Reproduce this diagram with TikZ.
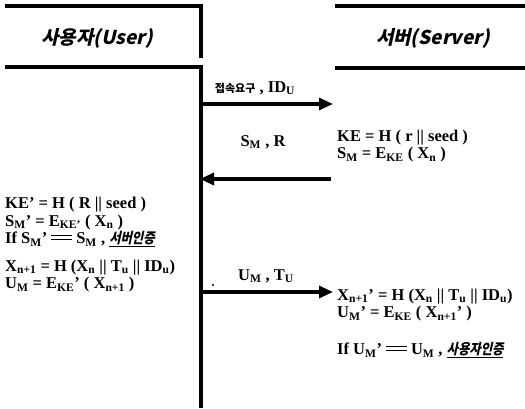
\documentclass[tikz,border=0pt]{standalone}
\usepackage{fontspec}
\setmainfont{Liberation Serif}
\newfontfamily\krfont[FakeSlant=0.22]{Noto Sans CJK KR}
\newfontfamily\krnarrow[FakeSlant=0.22,FakeStretch=0.85]{Noto Sans CJK KR}
\newfontfamily\krup{Noto Sans CJK KR}
\usetikzlibrary{positioning,arrows.meta}
\newcommand\subs[1]{\textsubscript{#1}}
\newcommand\hdr{\krfont\bfseries\fontsize{19}{21}\selectfont}
\newcommand\ko[1]{{\krup\bfseries\fontsize{11}{13}\selectfont #1}}
\newcommand\kou[1]{\underline{\krnarrow\bfseries\fontsize{14.5}{14.5}\selectfont #1}}
\newcommand\eqq{\kern4pt\rule[3.2pt]{21pt}{1.6pt}\llap{\rule[7.2pt]{21pt}{1.6pt}}\kern4pt}

\begin{document}
\begin{tikzpicture}[x=1pt,y=-1pt,font=\bfseries\fontsize{16.5}{17.5}\selectfont,
  rule/.style={line width=3.2pt},
  msg/.style={line width=3.2pt,-{Triangle[length=14pt,width=12pt]}},
  eq/.style={anchor=west,inner sep=0pt,align=left},
  lbl/.style={inner sep=0pt}]
\useasboundingbox (0,0) rectangle (525,408);
% ===== headers =====
\draw[rule] (5,6)--(201,6)--(201,58);
\draw[rule] (5,67)--(201,67)--(201,408);
\draw[rule] (335,6)--(525,6);
\draw[rule] (335,68)--(525,68);
\node (user) at (97,38) {\hdr 사용자(User)};
\node (server) at (433,38) {\hdr 서버(Server)};
% ===== message end points =====
\coordinate (u1) at (201,104); \coordinate (s1) at (333,104);
\coordinate (u2) at (200,179); \coordinate (s2) at (331,179);
\coordinate (u3) at (201,292); \coordinate (s3) at (333,292);
% ===== messages =====
\draw[msg] (u1)--(s1);
\node[lbl] (m1) at (255,88) {\ko{접속요구} , ID\subs{U}};
\draw[msg] (s2)--(u2);
\node[lbl] (m2) at (263,142) {S\subs{M} , R};
\draw[msg] (u3)--(s3);
\node[lbl] (m3) at (266,276) {U\subs{M} , T\subs{U}};
\fill (213,285) circle (1.2pt);
% ===== server computations =====
\node[eq] (kes) at (337,146) {KE = H ( r || seed )\\S\subs{M} = E\subs{KE} ( X\subs{n} )};
\node[eq] (xns) at (337,305) {X\subs{n+1}’ = H (X\subs{n} || T\subs{u} || ID\subs{u})\\U\subs{M}’ = E\subs{KE} ( X\subs{n+1}’ )};
\node[eq] (auths) at (337,350) {If U\subs{M}’\eqq U\subs{M} , \kou{사용자인증}};
% ===== user computations =====
\node[eq] (keu) at (5,222) {KE’ = H ( R || seed )\\S\subs{M}’ = E\subs{KE’} ( X\subs{n} )\\If S\subs{M}’\eqq S\subs{M} , \kou{서버인증}};
\node[eq] (xnu) at (5,276) {X\subs{n+1} = H (X\subs{n} || T\subs{u} || ID\subs{u})\\U\subs{M} = E\subs{KE}’ ( X\subs{n+1} )};
\end{tikzpicture}
\end{document}
